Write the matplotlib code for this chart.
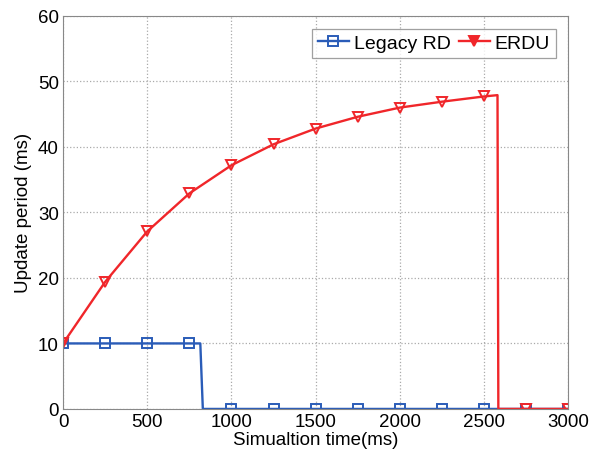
import matplotlib
matplotlib.use("Agg")
import matplotlib.pyplot as plt

plt.rcParams['font.family'] = ['Liberation Sans', 'DejaVu Sans']

# Legacy RD: flat at 10 ms, drops to 0 around 820 ms
legacy_t = [0, 250, 500, 750, 815, 830, 1000, 1250, 1500, 1750, 2000, 2250, 2500, 2750, 3000]
legacy_v = [10, 10, 10, 10, 10, 0, 0, 0, 0, 0, 0, 0, 0, 0, 0]
legacy_marks = [0, 1, 2, 3, 6, 7, 8, 9, 10, 11, 12, 13, 14]

# ERDU: grows towards ~48 ms, drops to 0 around 2580 ms
erdu_t = [0, 250, 500, 750, 1000, 1250, 1500, 1750, 2000, 2250, 2500, 2580, 2585, 2750, 3000]
erdu_v = [10, 19.4, 27.1, 32.9, 37.2, 40.4, 42.8, 44.6, 46.0, 46.9, 47.7, 47.9, 0, 0, 0]
erdu_marks = [0, 1, 2, 3, 4, 5, 6, 7, 8, 9, 10, 13, 14]

blue = '#2a5cb8'
red = '#f0262a'

fig = plt.figure(figsize=(5.95, 4.56), dpi=100)
ax = fig.add_axes([0.106, 0.101, 0.849, 0.862])

ax.plot(legacy_t, legacy_v, color=blue, lw=1.7, marker='s', markevery=legacy_marks,
        ms=6.5, mfc='none', mec=blue, mew=1.4, label='Legacy RD')
ax.plot(erdu_t, erdu_v, color=red, lw=1.7, marker='v', markevery=erdu_marks,
        ms=7.5, mfc='none', mec=red, mew=1.4, label='ERDU')

ax.set_xlim(0, 3000)
ax.set_ylim(0, 60)
ax.set_xticks(range(0, 3001, 500))
ax.set_yticks(range(0, 61, 10))
ax.grid(True, color='#aaaaaa', linestyle=':', linewidth=0.9)
for s in ax.spines.values():
    s.set_color('#888888')
ax.tick_params(length=0, labelsize=13.5, pad=3)

ax.set_xlabel('Simualtion time(ms)', fontsize=13.5, labelpad=1)
ax.set_ylabel('Update period (ms)', fontsize=13.5, labelpad=4)

leg = ax.legend(loc='upper right', ncol=2, fontsize=14, frameon=True, fancybox=False,
                edgecolor='#888888', handlelength=1.6, handletextpad=0.25,
                columnspacing=0.4, borderpad=0.3, borderaxespad=0.65)
leg.get_frame().set_linewidth(0.9)
leg.legend_handles[1].set_markerfacecolor(red)

fig.savefig('out.png', dpi=100)
